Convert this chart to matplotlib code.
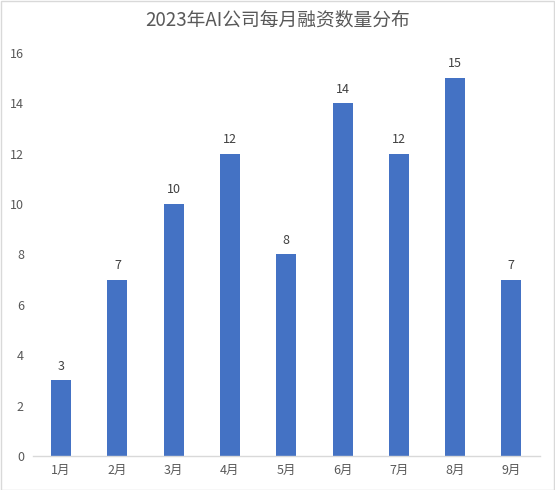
import matplotlib
matplotlib.use("Agg")
import matplotlib.pyplot as plt
from matplotlib.patches import Rectangle

plt.rcParams['font.family'] = ['Noto Sans CJK SC', 'DejaVu Sans']

months = ["1月", "2月", "3月", "4月", "5月", "6月", "7月", "8月", "9月"]
counts = [3, 7, 10, 12, 8, 14, 12, 15, 7]
title = "2023年AI公司每月融资数量分布"

W, H = 555, 490
fig = plt.figure(figsize=(W / 100, H / 100), dpi=100)
fig.patches.append(Rectangle((0.5 / W, 0.5 / H), 1 - 1.5 / W, 1 - 1.5 / H,
                             transform=fig.transFigure, fill=False,
                             edgecolor="#d9d9d9", linewidth=1))
ax = fig.add_axes([33 / W, (H - 456) / H, (539.5 - 33) / W, (456 - 52.8) / H])

x = list(range(len(months)))
bars = ax.bar(x, counts, width=0.355, color="#4472C4")
for xi, v in zip(x, counts):
    ax.annotate(str(v), (xi, v), xytext=(0, 5.5), textcoords="offset points",
                ha="center", va="bottom", fontsize=9, color="#404040")

ax.set_xlim(-0.5, len(months) - 0.5)
ax.set_ylim(0, 16)
ax.set_yticks(range(0, 17, 2))
ax.set_xticks(x)
ax.set_xticklabels(months)
ax.tick_params(axis="both", length=0, labelsize=9, colors="#595959")
ax.tick_params(axis="y", pad=6.5)
ax.tick_params(axis="x", pad=6)
for s in ["top", "right", "left"]:
    ax.spines[s].set_visible(False)
ax.spines["bottom"].set_color("#d9d9d9")
ax.spines["bottom"].set_linewidth(1)

fig.text(0.5, (H - 20) / H, title, ha="center", va="center", fontsize=13.5, color="#595959")

fig.savefig("out.png", dpi=100)
